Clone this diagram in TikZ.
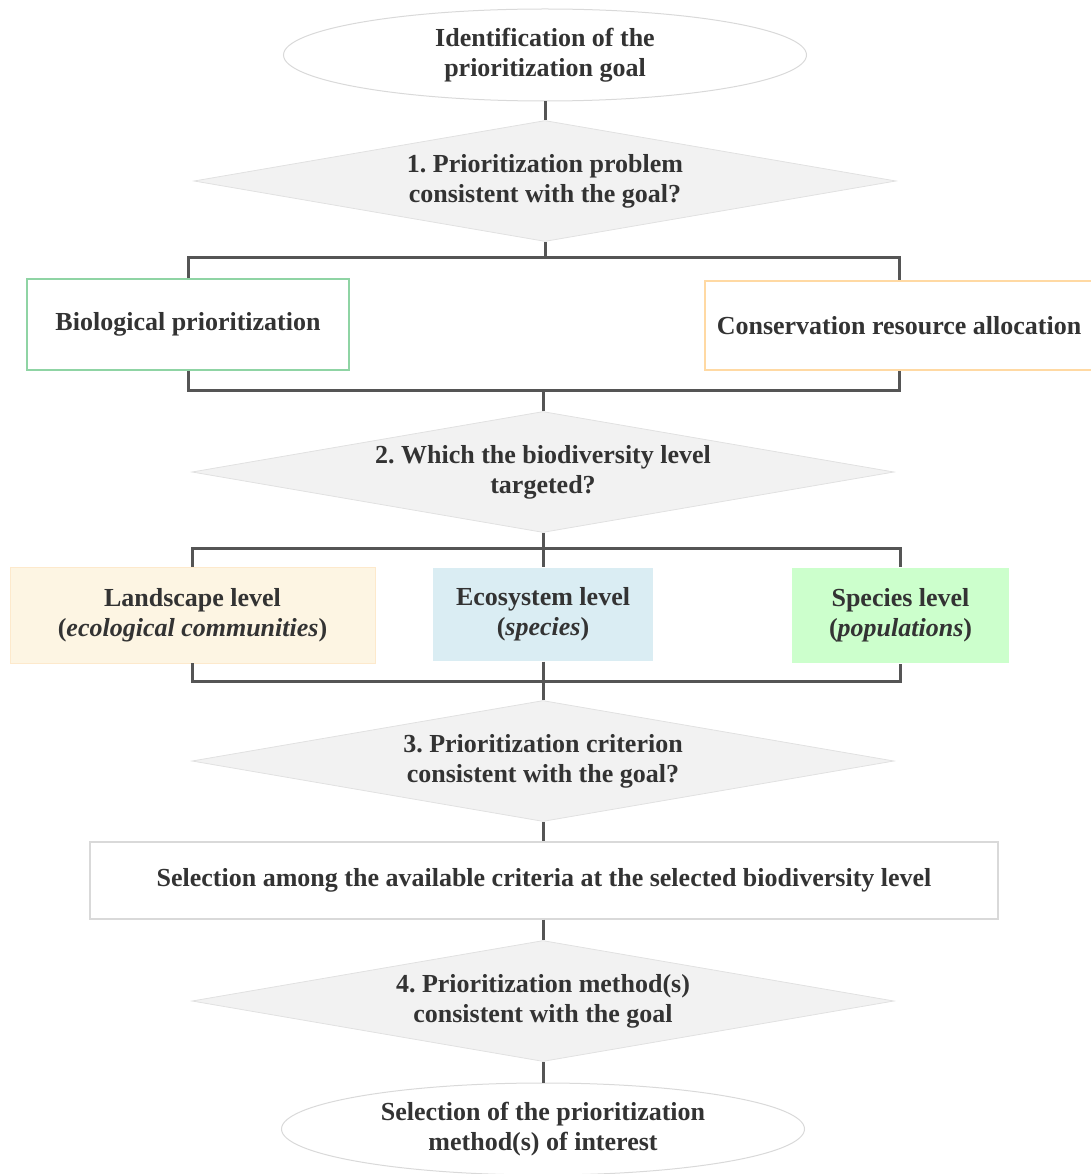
\documentclass[tikz,border=0pt]{standalone}
\usepackage{fontspec}
\setmainfont{Liberation Serif}
\usetikzlibrary{shapes.geometric}
\frenchspacing

\definecolor{texto}{HTML}{333333}
\definecolor{linha}{HTML}{555555}
\definecolor{borda}{HTML}{D9D9D9}
\definecolor{fundo}{HTML}{F2F2F2}
\definecolor{verde}{HTML}{8FD4A4}
\definecolor{laranja}{HTML}{FFD9A3}
\definecolor{creme}{HTML}{FDF5E3}
\definecolor{azul}{HTML}{DAEDF3}
\definecolor{verdeclaro}{HTML}{CCFFCC}

\tikzset{
  base/.style={font=\fontsize{26}{30}\selectfont\bfseries, text=texto,
    align=center, inner sep=0pt},
  elipse/.style={base, ellipse, draw=borda, line width=1pt,
    minimum width=523, minimum height=92},
  losango/.style={base, diamond, aspect=5.8, fill=fundo, draw=borda!80,
    line width=0.8pt, minimum width=702, minimum height=121},
  caixa/.style={base, rectangle, line width=1.2pt},
  liga/.style={draw=linha, line width=3pt},
}

\begin{document}
\begin{tikzpicture}[x=1pt, y=-1pt]
  \useasboundingbox (0,0) rectangle (1091,1174);

  % elipses
  \node[elipse] (goal) at (545,55) {Identification of the\\prioritization goal};
  \node[elipse] (method) at (543,1129) {Selection of the prioritization\\method(s) of interest};

  % losangos
  \node[losango] (q1) at (545,181) {1. Prioritization problem\\consistent with the goal?};
  \node[losango] (q2) at (543,472) {2. Which the biodiversity level\\targeted?};
  \node[losango] (q3) at (543,761) {3. Prioritization criterion\\consistent with the goal?};
  \node[losango] (q4) at (543,1001) {4. Prioritization method(s)\\consistent with the goal};

  % caixas do problema
  \node[caixa, draw=verde, minimum width=322, minimum height=91] (bio) at (188,324.5)
    {Biological prioritization};
  \node[caixa, draw=laranja, minimum width=388, minimum height=89] (cons) at (899,325.5)
    {Conservation resource allocation};

  % caixas dos níveis
  \node[caixa, fill=creme, draw=creme!90!orange, line width=0.6pt,
    minimum width=365, minimum height=96] (land) at (192.5,615)
    {Landscape level\\(\textit{ecological communities})};
  \node[caixa, fill=azul, minimum width=220, minimum height=93] (eco) at (543,614.5)
    {Ecosystem level\\(\textit{species})};
  \node[caixa, fill=verdeclaro, minimum width=217, minimum height=95] (spec) at (900.5,615.5)
    {Species level\\(\textit{populations})};

  % critério
  \node[caixa, draw=borda, minimum width=908, minimum height=77] (crit) at (544,880.5)
    {Selection among the available criteria at the selected biodiversity level};

  % ligações
  \draw[liga] (goal.south) -- (q1.north);

  \draw[liga] (q1.south) -- ++(0,16) coordinate (b1);
  \draw[liga] (bio.north) |- (b1) -| (cons.north);
  \draw[liga] (q2.north) -- ++(0,-21) coordinate (b2);
  \draw[liga] (bio.south) |- (b2) -| (cons.south);

  \draw[liga] (q2.south) -- ++(0,16) coordinate (b3);
  \draw[liga] (land.north) |- (b3) -| (spec.north);
  \draw[liga] (b3) -- (eco.north);
  \draw[liga] (q3.north) -- ++(0,-19) coordinate (b4);
  \draw[liga] (land.south) |- (b4) -| (spec.south);
  \draw[liga] (eco.south) -- (b4);

  \draw[liga] (q3.south) -- (q3.south |- crit.north);
  \draw[liga] (q4.north |- crit.south) -- (q4.north);
  \draw[liga] (q4.south) -- (method.north);
\end{tikzpicture}
\end{document}
